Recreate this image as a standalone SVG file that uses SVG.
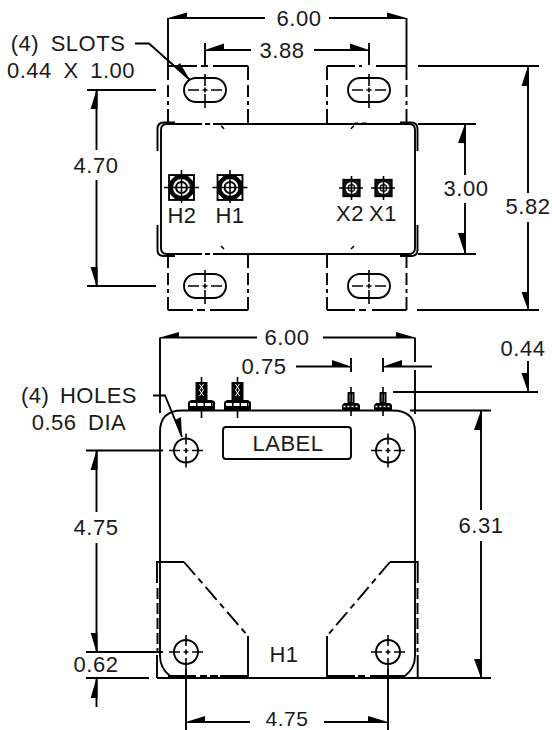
<svg xmlns="http://www.w3.org/2000/svg" width="552" height="730" viewBox="0 0 552 730">
<style>
text{font-family:"Liberation Sans",Arial,sans-serif;font-size:22px;fill:#1a1a1a;letter-spacing:.5px;text-anchor:middle}
.w{word-spacing:5px}
.l{fill:none;stroke:#000;stroke-width:1.9}
.f{fill:none;stroke:#000;stroke-width:1.9;stroke-dasharray:14 5 12 4 4 4 15 100}
.g{fill:none;stroke:#000;stroke-width:1.9;stroke-dasharray:17 5 6 5}
.s{fill:none;stroke:#000;stroke-width:1.6}
.a{fill:#000;stroke:none}
</style>
<defs>
<g id="slot"><rect x="-21" y="-12" width="42" height="24" rx="12" class="l"/>
<path class="s" d="M-17 0H-6M-2.500 0H2.500M6 0H17M0 -16V-4M0 -2.500V2.500M0 4V18"/></g>
<g id="hole"><circle r="12" class="l"/><path class="s" d="M-17 0H-6M-2.500 0H2.500M6 0H17M0 -17V-6M0 -2.500V2.500M0 6V17"/></g>
<g id="tb"><rect x="-12" y="-12" width="25" height="25" fill="#000" stroke="#000" stroke-width="1.800"/><path d="M-11 -11H-6L-11 -6ZM12 -11H7L12 -6ZM-11 12H-6L-11 7ZM12 12H7L12 7Z" fill="#fff"/><circle r="8.500" cx="0.500" cy="0.500" fill="#fff"/><circle r="6.500" cx="0.500" cy="0.500" fill="#000"/><circle r="4.500" cx="0.500" cy="0.500" fill="#fff"/><path class="s" d="M-17 .5H18M.5 -17V16"/></g>
<g id="ts"><rect x="-8" y="-8.500" width="17" height="17" fill="#111" stroke="#000" stroke-width="1.300"/><circle r="6" cx="0.500" fill="#fff"/><circle r="4" cx="0.500" fill="#222"/><circle r="2.500" cx="0.500" fill="#fff"/><path class="s" d="M-12 0H12M.5 -12V12"/></g>
<g id="stb"><rect x="-5.500" y="-28" width="12" height="18" fill="#000"/><path d="M-1.500 -26L2.500 -20L-1.500 -14M2.500 -26L-1.500 -20L2.500 -14" fill="none" stroke="#fff" stroke-width="1"/><path class="a" d="M-13 0V-8L-10 -10H11L14 -8V0Z"/><path d="M-11 -5.500H12" stroke="#fff" stroke-dasharray="6 1.500" stroke-width="3"/><path class="s" d="M.5 -33V-28M.5 0V8"/></g>
<g id="sts"><rect x="-3.500" y="-18" width="7" height="12" fill="#000"/><path d="M-1 -16V-8M1.500 -16V-8" stroke="#999" stroke-width=".8"/><path class="a" d="M-9 0V-5L-7 -7H7L9 -5V0Z"/><path d="M-7.500 -3.500H8" stroke="#fff" stroke-dasharray="2 2" stroke-width="1.500"/><path class="s" d="M0 -23V-18M0 0V6"/></g>
</defs>

<g id="connectors">
<path class="l" d="M187 18H265M329 18H387M168 18V66M406.500 18V66M224 50H251M314 50H350M205 43V65M369 43V65"/>
<path class="l" d="M135 43.500H149L190 80"/>
<path class="l" d="M87 90H156M96.500 90V150M96.500 180V286M87 286H156"/>
<path class="l" d="M418 66H539M528 66V193M528 222V310M417 310H539"/>
<path class="l" d="M418 124H476M465 124V175M465 203V254M418 254H476"/>
<path class="l" d="M179 337.500H257M323 337.500H396M160 337.500V413M415 337.500V362M415 370V414"/>
<path class="l" d="M296 366.500H332M351 358V372M383 358V372M402 366.500H432"/>
<path class="l" d="M528 361V392M393 392H538"/>
<path class="l" d="M410 410.500H491M481 410.500V510M481 541V678M157 678H491"/>
<path class="l" d="M153 395.500H165L182 437"/>
<path class="l" d="M86 450.500H163M96.500 450.500V512M96.500 543V652M86 652H163"/>
<path class="l" d="M86 678H149M96.500 678V707"/>
<path class="l" d="M186 669V730M388 669V730M205 722H250M324 722H368"/>
<path class="a" d="M168 18L187 12.500V19H168ZM406.500 18L387 12.500V19H406.500ZM205 50L224 43.500V51H205ZM369 50L350 43.500V51H369Z"/>
<path class="a" d="M190 80L180 63L175 67.500ZM96.500 90L90.500 109H97.500V90ZM96.500 286L90.500 267H97.500V286ZM528 66L521.500 86H529V66ZM528 310L521.500 292H529V310ZM465 124L458 143H466V124ZM465 254L458 233H466V254Z"/>
<path class="a" d="M160 337.500L179 332V338.500H160ZM415 337.500L396 332V338.500H415ZM351 366.500L332 360V367.500H351ZM383 366.500L402 360V367.500H383ZM528 392L521.500 373H529V392ZM481 410.500L474 430H482V410.500ZM481 678L474 659H482V678ZM182 437L175 420L181 417ZM96.500 450.500L90.500 470H97.500V450.500ZM96.500 652L90.700 633H97.500V652ZM96.500 678L90.700 698H97.500V678ZM186 722L205 716V723H186ZM388 722L368 716V723H388Z"/>
</g>

<g id="top-view">
<path class="l" d="M197 124H167Q161 124 161 130V248Q161 254 167 254H197M218 124H409Q415 124 415 130V248Q415 254 409 254H218"/>
<path class="l" d="M157.500 151V129Q157.500 122.500 164 122.500H175M157.500 225V250Q157.500 256 164 256H175M417.500 151V129Q417.500 122.500 411 122.500H400M417.500 225V250Q417.500 256 411 256H400"/>
<path class="s" d="M224 129Q223 127 221 126M351 129Q352 127 354 126M224 249Q223 248 221 246M351 249Q352 248 354 246"/>
<path class="l" style="stroke-dasharray:5 3" d="M197 124H218M197 254H218"/>
<path class="l" d="M355 123.500H358M362 123.500H367"/>
</g>
<g id="flange-tl"><path class="l" d="M168 66H197M201 66H208M213 66H248"/><path class="f" d="M168 66V124"/><path class="f" d="M248 66V124"/><use href="#slot" x="205" y="90"/></g>
<g id="flange-tr"><path class="l" d="M327 66H355M359 66H362M376 66H406.500"/><path class="f" d="M327 66V124"/><path class="f" d="M406.500 66V124"/><use href="#slot" x="369" y="90"/></g>
<g id="flange-bl"><path class="l" d="M168 310H193M197 310H205M210 310H248"/><path class="f" d="M168 254V310"/><path class="f" d="M248 254V310"/><use href="#slot" x="205" y="286"/></g>
<g id="flange-br"><path class="l" d="M327 310H355M359 310H366M372 310H406.500"/><path class="f" d="M327 254V310"/><path class="f" d="M406.500 254V310"/><use href="#slot" x="369" y="286"/></g>
<g id="term-h2"><use href="#tb" x="181" y="187"/></g>
<g id="term-h1"><use href="#tb" x="229.500" y="187"/></g>
<g id="term-x2"><use href="#ts" x="351" y="188"/></g>
<g id="term-x1"><use href="#ts" x="383" y="188"/></g>

<g id="bottom-view">
<path class="l" d="M160 656V432Q160 410.500 182 410.500H393Q415 410.500 415 432V656Q415 668 405 676M160 656Q160 668 170 676"/>
<path class="l" d="M157 583V562H184M390 562H417.700V583M157 655V678M417.700 655V678M248 636V678M327 636V678"/>
<path class="l" style="stroke-dasharray:11 4" d="M157.500 588V652M417.500 588V652"/>
<path class="g" d="M184 562L248 636M390 562L327 636"/>
<path class="l" d="M168 676H196M200 676H207M210 676H218M220 676H248M327 676H355M358 676H365M370 676H405"/>
</g>
<g id="stud-1"><use href="#stb" x="201" y="410"/></g>
<g id="stud-2"><use href="#stb" x="237" y="410"/></g>
<g id="stud-3"><use href="#sts" x="351" y="410"/></g>
<g id="stud-4"><use href="#sts" x="383" y="410"/></g>
<g id="label"><rect x="223" y="427" width="128" height="32" rx="3" class="l"/><text x="288" y="451">LABEL</text></g>
<g id="hole-1"><use href="#hole" x="186" y="450.500"/></g>
<g id="hole-2"><use href="#hole" x="388" y="450.500"/></g>
<g id="hole-3"><use href="#hole" x="186" y="652"/></g>
<g id="hole-4"><use href="#hole" x="388" y="652"/></g>

<g id="texts">
<text x="299" y="26">6.00</text>
<text x="282" y="57.500">3.88</text>
<text x="68" y="51" class="w">(4) SLOTS</text>
<text x="71" y="77.500" class="w">0.44 X 1.00</text>
<text x="96" y="173">4.70</text>
<text x="182" y="223">H2</text>
<text x="230" y="223">H1</text>
<text x="350" y="221">X2</text>
<text x="383" y="221">X1</text>
<text x="466" y="196">3.00</text>
<text x="528" y="213.500">5.82</text>
<text x="287" y="345">6.00</text>
<text x="264" y="374">0.75</text>
<text x="523" y="356">0.44</text>
<text x="79" y="402.500" class="w" style="word-spacing:4px">(4) HOLES</text>
<text x="79" y="430" class="w">0.56 DIA</text>
<text x="96" y="535">4.75</text>
<text x="481" y="533">6.31</text>
<text x="284" y="662">H1</text>
<text x="96" y="671.500">0.62</text>
<text x="287" y="725.500" style="font-size:21px">4.75</text>
</g>
</svg>
